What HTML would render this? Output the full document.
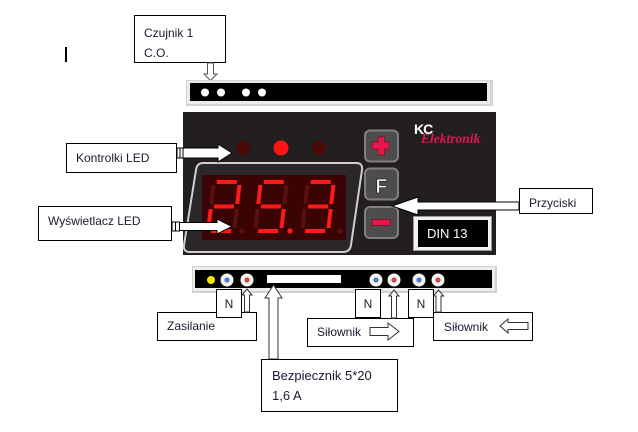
<!DOCTYPE html>
<html><head><meta charset="utf-8"><style>
html,body{margin:0;padding:0;background:#fff;}
svg{display:block;}
text{font-family:"Liberation Sans",sans-serif;}
</style></head><body>
<svg width="638" height="432" viewBox="0 0 638 432" xmlns="http://www.w3.org/2000/svg">
<rect x="0" y="0" width="638" height="432" fill="#fff"/>
<!-- cursor -->
<rect x="65" y="47" width="2" height="15" fill="#000"/>
<!-- Czujnik box -->
<rect x="134.5" y="15.5" width="91" height="47" fill="#fff" stroke="#000" stroke-width="1"/>
<text x="144" y="37" font-size="12" fill="#1a1a2e">Czujnik 1</text>
<text x="144" y="57" font-size="12" fill="#1a1a2e">C.O.</text>
<!-- down arrow -->
<polygon points="207.5,63 213.5,63 213.5,74 217,74 210.5,80.5 204,74 207.5,74" fill="#fff" stroke="#555" stroke-width="1"/>

<!-- top strip -->
<rect x="186" y="80" width="307" height="26" fill="#d4d4d4"/>
<rect x="187" y="81" width="303" height="23" fill="#ececec"/>
<rect x="190" y="83" width="297" height="18" fill="#000"/>
<circle cx="205" cy="92.5" r="4" fill="#fff"/>
<circle cx="221" cy="92.5" r="4" fill="#fff"/>
<circle cx="246" cy="92.5" r="4" fill="#fff"/>
<circle cx="262" cy="92.5" r="4" fill="#fff"/>

<!-- panel -->
<rect x="183" y="112" width="313" height="143" fill="#231f20"/>
<!-- LEDs -->
<circle cx="243" cy="148" r="7" fill="#4a0a0a"/>
<circle cx="281" cy="148" r="7.5" fill="#ff1414"/>
<circle cx="319" cy="148" r="7" fill="#4a0a0a"/>
<!-- bezel -->
<path d="M203,163 L356,163 Q363,163 362,170 L351,245 Q350,252 343,252 L190,252 Q183,252 184,245 L196,170 Q197,163 203,163 Z" fill="#2b2728" stroke="#cfcfcf" stroke-width="2"/>
<!-- display -->
<rect x="202" y="175" width="144" height="65" fill="#3a0404"/>
<g>
 <g transform="translate(212,180) skewX(-6.5)">
  <rect x="5" y="0" width="20" height="4" fill="#ff1a1a"/>
  <rect x="0" y="5" width="4" height="19" fill="#5a1010"/>
  <rect x="26" y="5" width="4" height="19" fill="#ff1a1a"/>
  <rect x="5" y="24.5" width="20" height="4" fill="#ff1a1a"/>
  <rect x="0" y="29" width="4" height="19" fill="#ff1a1a"/>
  <rect x="26" y="29" width="4" height="19" fill="#5a1010"/>
  <rect x="5" y="49" width="20" height="4" fill="#ff1a1a"/>
 </g>
 <g transform="translate(259,180) skewX(-6.5)">
  <rect x="5" y="0" width="20" height="4" fill="#ff1a1a"/>
  <rect x="0" y="5" width="4" height="19" fill="#ff1a1a"/>
  <rect x="26" y="5" width="4" height="19" fill="#5a1010"/>
  <rect x="5" y="24.5" width="20" height="4" fill="#ff1a1a"/>
  <rect x="0" y="29" width="4" height="19" fill="#5a1010"/>
  <rect x="26" y="29" width="4" height="19" fill="#ff1a1a"/>
  <rect x="5" y="49" width="20" height="4" fill="#ff1a1a"/>
 </g>
 <g transform="translate(306,180) skewX(-6.5)">
  <rect x="5" y="0" width="20" height="4" fill="#ff1a1a"/>
  <rect x="0" y="5" width="4" height="19" fill="#5a1010"/>
  <rect x="26" y="5" width="4" height="19" fill="#ff1a1a"/>
  <rect x="5" y="24.5" width="20" height="4" fill="#ff1a1a"/>
  <rect x="0" y="29" width="4" height="19" fill="#5a1010"/>
  <rect x="26" y="29" width="4" height="19" fill="#ff1a1a"/>
  <rect x="5" y="49" width="20" height="4" fill="#ff1a1a"/>
 </g>
 <circle cx="242" cy="231" r="2.7" fill="#5a1010"/>
 <circle cx="290" cy="231" r="2.7" fill="#ff1a1a"/>
 <circle cx="340" cy="231" r="2.7" fill="#5a1010"/>
</g>

<!-- buttons -->
<rect x="365" y="130.5" width="33" height="31" rx="5" fill="#4d4d4d" stroke="#808080" stroke-width="2"/>
<rect x="372" y="142" width="17" height="7" fill="#e8174b" stroke="#7a0a20" stroke-width="0.7"/>
<rect x="378" y="137" width="6.5" height="18" fill="#e8174b" stroke="#7a0a20" stroke-width="0.7"/>
<rect x="372.3" y="142.4" width="16.4" height="6.2" fill="#e8174b"/>
<rect x="365" y="168.5" width="33" height="31" rx="5" fill="#4d4d4d" stroke="#808080" stroke-width="2"/>
<text x="381.5" y="193" font-size="20" font-weight="bold" fill="#fff" stroke="#222" stroke-width="0.8" text-anchor="middle">F</text>
<rect x="365" y="207" width="33" height="31" rx="5" fill="#4d4d4d" stroke="#808080" stroke-width="2"/>
<rect x="372" y="219.5" width="18" height="6" fill="#e8174b" stroke="#7a0a20" stroke-width="0.7"/>

<!-- logo -->
<text x="414" y="134" font-size="14" font-weight="bold" fill="#fff" letter-spacing="-1">KC</text>
<text x="421" y="143" font-size="13.5" font-style="italic" font-weight="bold" fill="#e0184b" style="font-family:'Liberation Serif',serif">Elektronik</text>

<!-- DIN box -->
<rect x="413" y="216" width="79" height="35" fill="#9a9a9a"/>
<rect x="414" y="217" width="77" height="33" fill="#f2f2f2"/>
<rect x="418" y="220" width="70" height="27" fill="#000"/>
<text x="427" y="238" font-size="13" fill="#fff">DIN 13</text>

<!-- Kontrolki LED -->
<rect x="66.5" y="143.5" width="110" height="29" fill="#fff" stroke="#000"/>
<text x="76" y="162" font-size="12" fill="#1a1a2e">Kontrolki LED</text>
<rect x="177" y="148" width="3" height="10" fill="#fff" stroke="#000" stroke-width="1"/>
<rect x="180" y="148" width="3" height="10" fill="#fff" stroke="#000" stroke-width="1"/>
<polygon points="183,148 218,148 218,144 232,153 218,162 218,158 183,158" fill="#fff" stroke="#000" stroke-width="1"/>

<!-- Wyświetlacz LED -->
<rect x="38.5" y="206.5" width="133" height="34" fill="#fff" stroke="#000"/>
<text x="48" y="225" font-size="12" fill="#1a1a2e">Wyświetlacz LED</text>
<rect x="172" y="222" width="3.5" height="9" fill="#fff" stroke="#000" stroke-width="1"/>
<rect x="175.5" y="222" width="4" height="9" fill="#fff" stroke="#000" stroke-width="1"/>
<polygon points="179.5,222.5 217,222.5 217,219 232,226.5 217,234 217,230.5 179.5,230.5" fill="#fff" stroke="#000" stroke-width="1"/>

<!-- Przyciski -->
<polygon points="519,202 418,202 418,197 392,206 418,215 418,210 519,210" fill="#fff" stroke="#000" stroke-width="1"/>
<rect x="519.5" y="188.5" width="73" height="25" fill="#fff" stroke="#000"/>
<text x="529" y="207" font-size="12" fill="#1a1a2e">Przyciski</text>

<!-- bottom strip -->
<rect x="192" y="266" width="305" height="27" fill="#d0d0d0"/>
<rect x="193" y="267" width="302" height="24" fill="#ececec"/>
<rect x="195" y="270" width="297" height="18" fill="#000"/>
<circle cx="211" cy="280" r="4" fill="#f2e600"/>
<g>
 <circle cx="227" cy="280" r="6.5" fill="#f4f4f4"/><circle cx="227" cy="280" r="2.6" fill="#4a7cc4"/>
 <circle cx="247" cy="280" r="6.5" fill="#f4f4f4"/><circle cx="247" cy="280" r="2.6" fill="#c84848"/>
 <circle cx="376" cy="280" r="6.5" fill="#f4f4f4"/><circle cx="376" cy="280" r="2.6" fill="#4a7cc4"/>
 <circle cx="394" cy="280" r="6.5" fill="#f4f4f4"/><circle cx="394" cy="280" r="2.6" fill="#c84848"/>
 <circle cx="419" cy="280" r="6.5" fill="#f4f4f4"/><circle cx="419" cy="280" r="2.6" fill="#4a7cc4"/>
 <circle cx="438" cy="280" r="6.5" fill="#f4f4f4"/><circle cx="438" cy="280" r="2.6" fill="#c84848"/>
</g>
<rect x="267" y="275" width="74" height="8" fill="#fff"/>

<!-- Zasilanie -->
<rect x="157.5" y="312.5" width="99" height="28" fill="#fff" stroke="#000"/>
<text x="167" y="330" font-size="12" fill="#1a1a2e">Zasilanie</text>
<rect x="216.5" y="289.5" width="25" height="28" fill="#fff" stroke="#000"/>
<text x="229" y="308" font-size="12" fill="#1a1a2e" text-anchor="middle">N</text>
<polygon points="247,289 252,295 249.5,295 249.5,312 244.5,312 244.5,295 242,295" fill="#fff" stroke="#333" stroke-width="1"/>

<!-- Fuse arrow -->
<polygon points="273.5,285 282,298 278,298 278,359 269,359 269,298 265,298" fill="#fff" stroke="#333" stroke-width="1"/>
<rect x="261.5" y="359.5" width="136" height="52" fill="#fff" stroke="#000"/>
<text x="272" y="380" font-size="13" fill="#1a1a2e">Bezpiecznik 5*20</text>
<text x="272" y="400" font-size="13" fill="#1a1a2e">1,6 A</text>

<!-- Siłownik 1 -->
<rect x="307.5" y="318.5" width="106" height="28" fill="#fff" stroke="#000"/>
<text x="317" y="336" font-size="12" fill="#1a1a2e">Siłownik</text>
<polygon points="370,327.5 388,327.5 388,323 399,331.5 388,340 388,335.5 370,335.5" fill="#fff" stroke="#333" stroke-width="1"/>
<rect x="355.5" y="289.5" width="25" height="28" fill="#fff" stroke="#000"/>
<text x="368" y="308" font-size="12" fill="#1a1a2e" text-anchor="middle">N</text>
<polygon points="394,290 399,296 396.5,296 396.5,318 391.5,318 391.5,296 389,296" fill="#fff" stroke="#333" stroke-width="1"/>

<!-- Siłownik 2 -->
<rect x="433.5" y="312.5" width="99" height="28" fill="#fff" stroke="#000"/>
<text x="444" y="331" font-size="12" fill="#1a1a2e">Siłownik</text>
<polygon points="528,322.5 508,322.5 508,319 500,326 508,333 508,329.5 528,329.5" fill="#fff" stroke="#333" stroke-width="1"/>
<rect x="408.5" y="289.5" width="25" height="28" fill="#fff" stroke="#000"/>
<text x="421" y="308" font-size="12" fill="#1a1a2e" text-anchor="middle">N</text>
<polygon points="438.5,290 443.5,296 441,296 441,312 436,312 436,296 433.5,296" fill="#fff" stroke="#333" stroke-width="1"/>
</svg>
</body></html>
